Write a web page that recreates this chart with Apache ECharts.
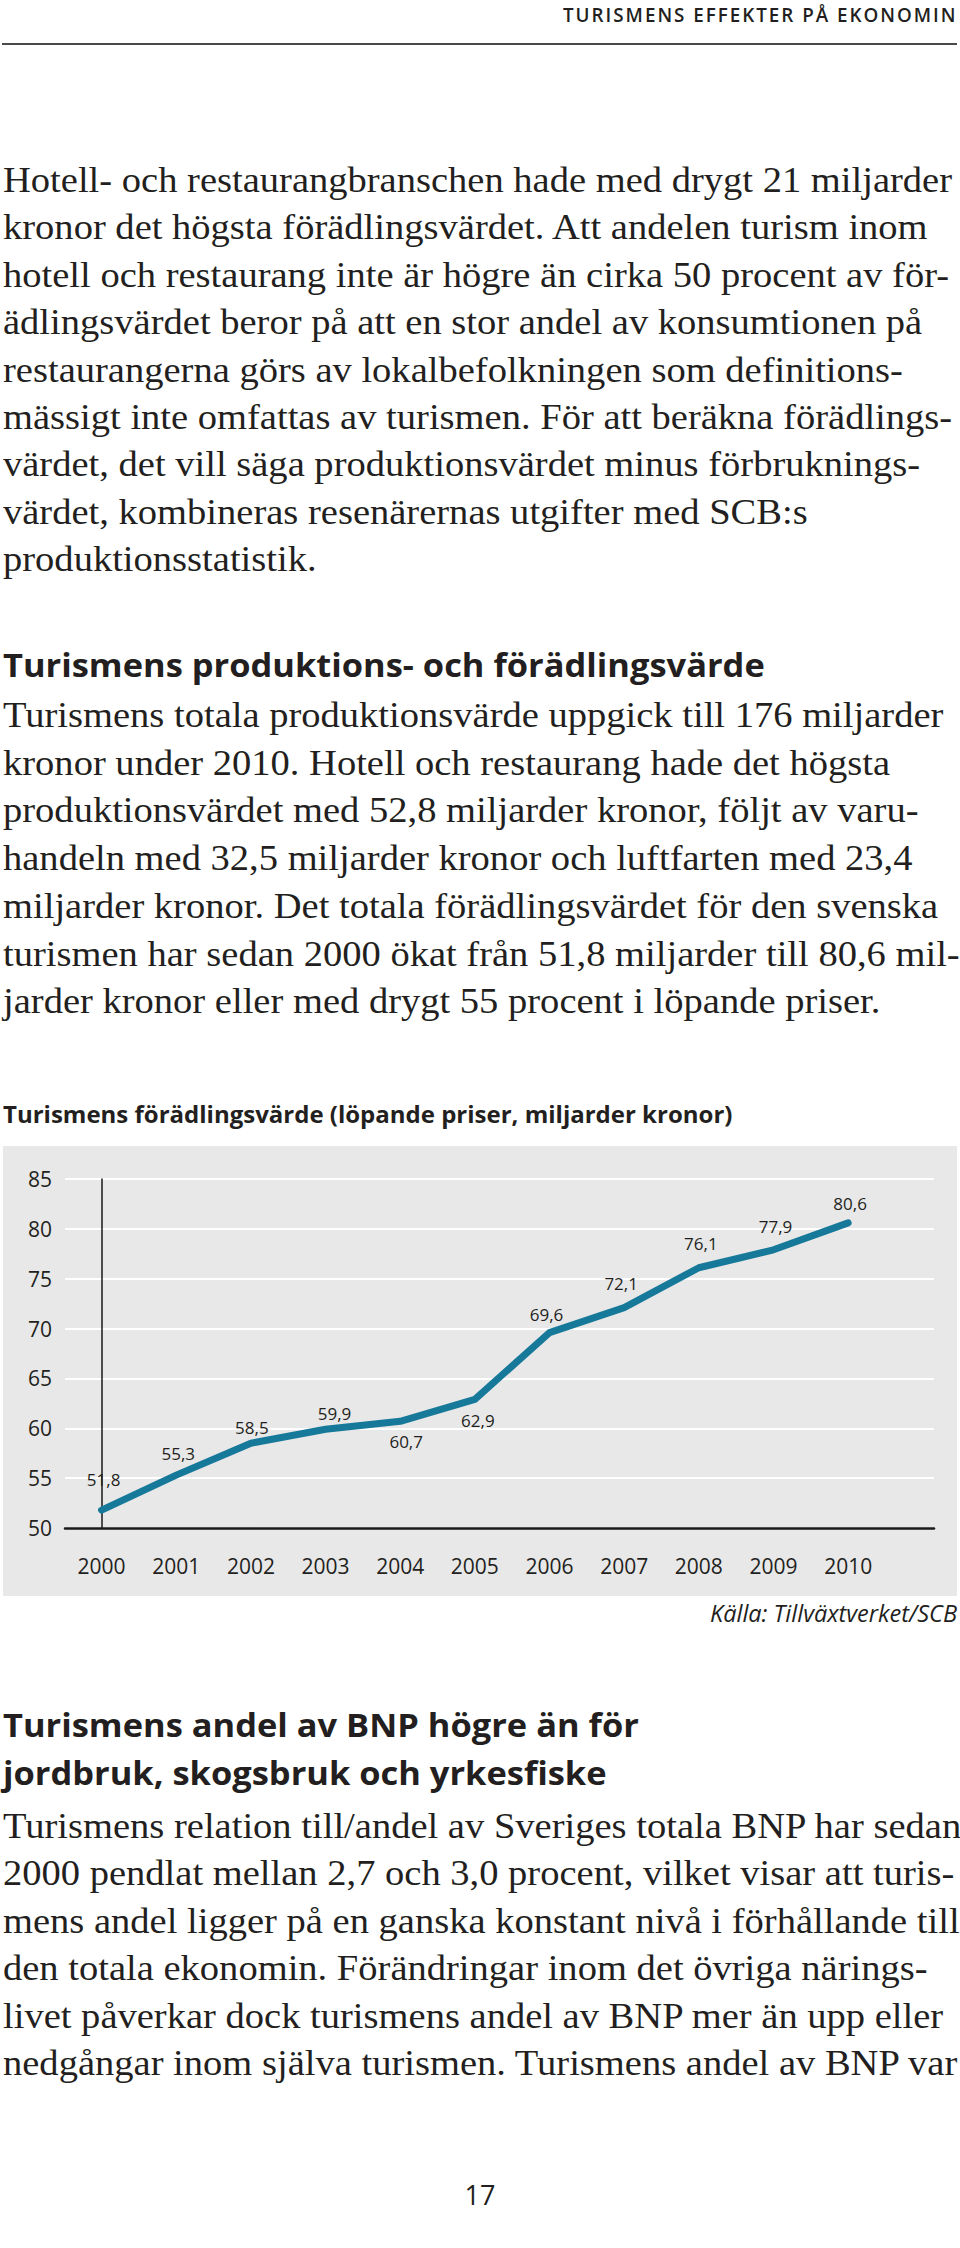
<!DOCTYPE html>
<html><head><meta charset="utf-8">
<script src="https://cdn.jsdelivr.net/npm/echarts@6/dist/echarts.min.js"></script>
<style>
html,body{margin:0;padding:0;background:#fff;}
body{width:960px;height:2248px;position:relative;overflow:hidden;color:#231f20;}
.ln{position:absolute;left:3px;top:0;white-space:nowrap;transform-origin:0 0;}
.body{font-family:"Liberation Serif",serif;font-size:35px;line-height:1;}
.head{font-family:"Open Sans",sans-serif;font-weight:700;font-size:32px;line-height:1;}
#hdr{position:absolute;right:3px;top:0;white-space:nowrap;font-family:"Open Sans",sans-serif;font-weight:600;font-size:19px;letter-spacing:2px;line-height:1;transform-origin:100% 0;}
#pg{position:absolute;left:0;width:960px;text-align:center;font-family:"Open Sans",sans-serif;font-size:27px;line-height:1;}
#rule{position:absolute;left:2px;top:43px;width:955px;height:2px;background:#4a4a4a;}
#chart{position:absolute;left:0;top:1090px;width:960px;height:550px;}
</style></head><body>
<div id="hdr">TURISMENS EFFEKTER PÅ EKONOMIN</div>
<div id="rule"></div>
<div id="chart"></div>
<div id="pg">17</div>
<script>
// ---- chart data ----
const years = ['2000','2001','2002','2003','2004','2005','2006','2007','2008','2009','2010'];
const values = [51.8, 55.3, 58.5, 59.9, 60.7, 62.9, 69.6, 72.1, 76.1, 77.9, 80.6];
const yMin = 50, yMax = 85, yStep = 5;
const chartTitle = 'Turismens förädlingsvärde (löpande priser, miljarder kronor)';
const sourceText = 'Källa: Tillväxtverket/SCB';
// label nudges (styling only)
const labelOffsets = [[2,-31],[2,-22],[1,-16],[9,-16],[6,20],[3,21],[-3,-18],[-3,-24],[2,-24],[2,-23],[2,-19]];

// ---- page text ----
const p1 = [
 'Hotell- och restaurangbranschen hade med drygt 21 miljarder',
 'kronor det högsta förädlingsvärdet. Att andelen turism inom',
 'hotell och restaurang inte är högre än cirka 50 procent av för-',
 'ädlingsvärdet beror på att en stor andel av konsumtionen på',
 'restaurangerna görs av lokalbefolkningen som definitions-',
 'mässigt inte omfattas av turismen. För att beräkna förädlings-',
 'värdet, det vill säga produktionsvärdet minus förbruknings-',
 'värdet, kombineras resenärernas utgifter med SCB:s',
 'produktionsstatistik.'
];
const h2 = ['Turismens produktions- och förädlingsvärde'];
const p2 = [
 'Turismens totala produktionsvärde uppgick till 176 miljarder',
 'kronor under 2010. Hotell och restaurang hade det högsta',
 'produktionsvärdet med 52,8 miljarder kronor, följt av varu-',
 'handeln med 32,5 miljarder kronor och luftfarten med 23,4',
 'miljarder kronor. Det totala förädlingsvärdet för den svenska',
 'turismen har sedan 2000 ökat från 51,8 miljarder till 80,6 mil-',
 'jarder kronor eller med drygt 55 procent i löpande priser.'
];
const h3 = ['Turismens andel av BNP högre än för', 'jordbruk, skogsbruk och yrkesfiske'];
const p3 = [
 'Turismens relation till/andel av Sveriges totala BNP har sedan',
 '2000 pendlat mellan 2,7 och 3,0 procent, vilket visar att turis-',
 'mens andel ligger på en ganska konstant nivå i förhållande till',
 'den totala ekonomin. Förändringar inom det övriga närings-',
 'livet påverkar dock turismens andel av BNP mer än upp eller',
 'nedgångar inom själva turismen. Turismens andel av BNP var'
];

function baselineOffset(el){
  const probe = document.createElement('span');
  probe.style.cssText = 'display:inline-block;width:0;height:0;vertical-align:baseline;';
  el.appendChild(probe);
  const off = probe.offsetTop;
  el.removeChild(probe);
  return off;
}
function makeLines(lines, cls, base, step){
  return lines.map((t, i) => {
    const d = document.createElement('div');
    d.className = 'ln ' + cls;
    d.textContent = t;
    document.body.appendChild(d);
    d.style.top = (base + i * step - baselineOffset(d)) + 'px';
    return d;
  });
}
function scaleGroup(els, refEl, target){
  const k = target / refEl.offsetWidth;
  els.forEach(e => e.style.transform = 'scaleX(' + k + ')');
}
const L1 = makeLines(p1, 'body', 192, 47.4);
const LH2 = makeLines(h2, 'head', 677, 0);
const L2 = makeLines(p2, 'body', 727, 47.7);
const LH3 = makeLines(h3, 'head', 1737, 48);
const L3 = makeLines(p3, 'body', 1838, 47.4);
scaleGroup([...L1, ...L2, ...L3], L1[0], 949);
scaleGroup([...LH2, ...LH3], LH2[0], 762);
const hdr = document.getElementById('hdr');
hdr.style.top = (22 - baselineOffset(hdr)) + 'px';
hdr.style.transform = 'scaleX(' + (394 / hdr.offsetWidth) + ')';
const pg = document.getElementById('pg');
pg.style.top = (2205 - baselineOffset(pg)) + 'px';

// ---- chart ----
const chart = echarts.init(document.getElementById('chart'), null, {renderer: 'svg'});
const seriesData = values.map((v, i) => ({
  value: [i, v],
  label: {offset: labelOffsets[i]}
}));
chart.setOption({
  animation: false,
  textStyle: {fontFamily: 'Open Sans'},
  title: {
    text: chartTitle, left: 3, top: 11, padding: 0,
    textStyle: {fontFamily: 'Open Sans', fontWeight: 700, fontSize: 24, color: '#231f20'}
  },
  graphic: [
    {type: 'rect', left: 3, top: 56, z: -100, silent: true,
     shape: {width: 954, height: 450}, style: {fill: '#e8e8e8'}},
    {type: 'text', right: 3, top: 511, silent: true,
     style: {text: sourceText, font: 'italic 23.5px "Open Sans"', fill: '#231f20'}}
  ],
  grid: {left: 65, right: 26, top: 89, bottom: 112},
  xAxis: {
    type: 'value', min: -0.49, max: 11.15,
    axisLine: {show: true, onZero: false, lineStyle: {color: '#1a1a1a', width: 2.5}},
    axisTick: {show: false},
    splitLine: {show: false},
    axisLabel: {
      customValues: years.map((_, i) => i),
      formatter: v => years[v],
      margin: 27, fontSize: 21, color: '#231f20', fontFamily: 'Open Sans'
    }
  },
  yAxis: {
    type: 'value', min: yMin, max: yMax, interval: yStep,
    axisLine: {show: true, lineStyle: {color: '#1a1a1a', width: 1.5}},
    axisTick: {show: false},
    splitLine: {show: true, lineStyle: {color: '#ffffff', width: 2}},
    axisLabel: {margin: 13, fontSize: 21, color: '#231f20', fontFamily: 'Open Sans'}
  },
  series: [{
    type: 'line',
    data: seriesData,
    symbol: 'circle', symbolSize: 1,
    itemStyle: {color: '#17799a'},
    lineStyle: {color: '#17799a', width: 7, cap: 'round', join: 'round'},
    label: {
      show: true, position: 'inside', fontSize: 17, color: '#231f20', fontFamily: 'Open Sans',
      formatter: p => String(values[p.dataIndex]).replace('.', ',')
    }
  }]
});
</script>
</body></html>
